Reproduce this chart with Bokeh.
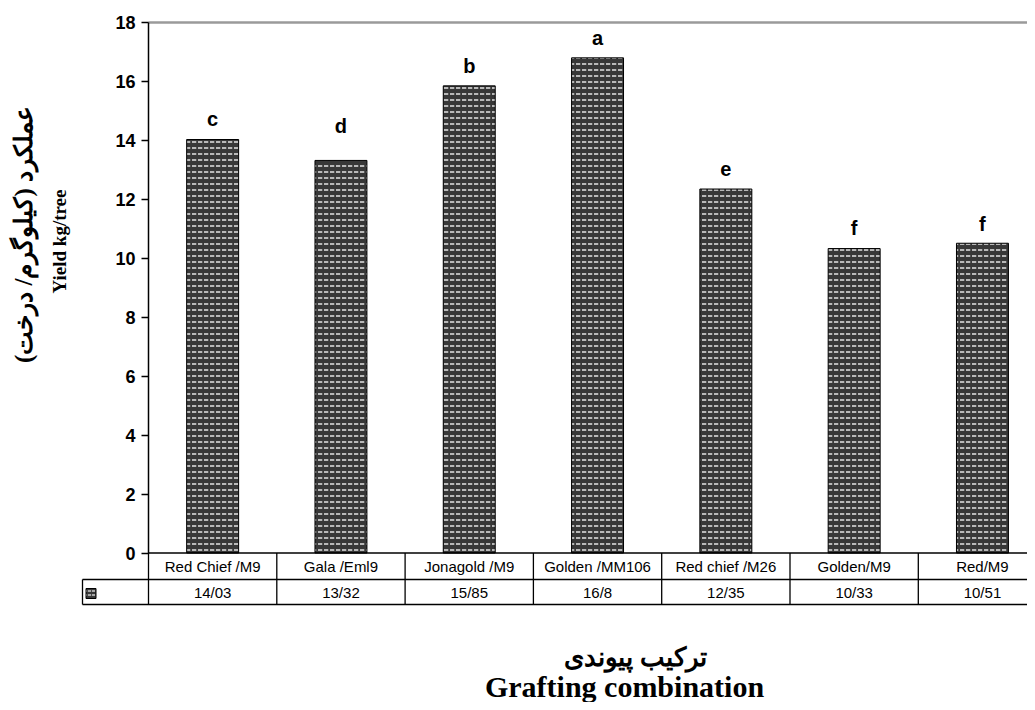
import math
from bokeh.plotting import figure
from bokeh.models import Range1d, LinearAxis, FixedTicker, Label
from bokeh.core.properties import value
from bokeh.embed import file_html
from bokeh.resources import INLINE

# ---------------- data ----------------
categories = ["Red Chief /M9", "Gala /Eml9", "Jonagold /M9", "Golden /MM106",
              "Red chief /M26", "Golden/M9", "Red/M9"]
yields = [14.03, 13.32, 15.85, 16.8, 12.35, 10.33, 10.51]
value_labels = ["14/03", "13/32", "15/85", "16/8", "12/35", "10/33", "10/51"]
letters = ["c", "d", "b", "a", "e", "f", "f"]
letter_y = [14.71, 14.50, 16.51, 17.49, 13.04, 11.04, 11.18]
y_ticks = [0, 2, 4, 6, 8, 10, 12, 14, 16, 18]
y_title_fa = "عملکرد (کیلوگرم/ درخت)"
y_title_en = "Yield kg/tree"
x_title_fa = "ترکیب پیوندی"
x_title_en = "Grafting combination"

# ---------------- layout (canvas pixels) ----------------
W, H = 1027, 702
AX_X = 148          # canvas x of the value axis
TOP = 22            # canvas y of the top of the scale
BASE = 552.5        # canvas y of zero
Y_MAX = 18
N = len(categories)
COL = 128.3         # width of one category column
PXU = (BASE - TOP) / Y_MAX


def dx(sx):
    return (sx - AX_X) / COL


def dy(sy):
    return (BASE - sy) / PXU


ROW1 = dy(579)
ROW2 = dy(604)
LEG = dx(82)

p = figure(width=W, height=H, title=None,
           x_range=Range1d(dx(0), dx(W)), y_range=Range1d(dy(H), dy(0)),
           x_axis_type=None, y_axis_type=None,
           output_backend="svg", toolbar_location=None,
           min_border=0, outline_line_color=None,
           background_fill_color="white", border_fill_color="white")

yaxis = LinearAxis(fixed_location=0, bounds=(0, Y_MAX),
                   ticker=FixedTicker(ticks=y_ticks),
                   major_tick_out=7, major_tick_in=0,
                   minor_tick_out=0, minor_tick_in=0,
                   axis_line_color="black", axis_line_width=1.5,
                   major_tick_line_color="black", major_tick_line_width=1.5,
                   major_label_text_font="Liberation Sans",
                   major_label_text_font_style="bold",
                   major_label_text_font_size="18px",
                   major_label_text_color="black",
                   major_label_standoff=6)
p.add_layout(yaxis, "left")

xs = [i + 0.5 for i in range(N)]

# plot-area top border
p.segment(x0=[0], y0=[Y_MAX], x1=[N], y1=[Y_MAX], line_color="#9a9a9a", line_width=2.5)

# bars
p.vbar(x=xs, top=yields, bottom=0, width=0.405,
       fill_color="#383838", line_color="black", line_width=1,
       hatch_pattern="horizontal_dash", hatch_color="#e4e4e4",
       hatch_scale=6, hatch_weight=1.5)

# significance letters
p.text(x=xs, y=letter_y, text=letters, text_align="center", text_baseline="middle",
       text_font=value("Liberation Sans"), text_font_style="bold",
       text_font_size="20px", text_color="black")

# data table lines
h_x0 = [0, LEG, LEG]
h_x1 = [N, N, N]
h_y = [0, ROW1, ROW2]
p.segment(x0=h_x0, y0=h_y, x1=h_x1, y1=h_y, line_color="black", line_width=1.3)
v_x = list(range(N)) + [LEG]
v_y0 = [0] * N + [ROW1]
v_y1 = [ROW2] * (N + 1)
p.segment(x0=v_x, y0=v_y0, x1=v_x, y1=v_y1, line_color="black", line_width=1.3)

# table texts
p.text(x=xs, y=[ROW1 / 2] * N, text=categories, text_align="center", text_baseline="middle",
       text_font=value("Liberation Sans"), text_font_size="15px", text_color="black")
p.text(x=xs, y=[(ROW1 + ROW2) / 2] * N, text=value_labels, text_align="center",
       text_baseline="middle", text_font=value("Liberation Sans"),
       text_font_size="15px", text_color="black")

# legend key in the table
p.rect(x=[dx(90.5)], y=[dy(593)], width=10, height=10,
       width_units="screen", height_units="screen",
       fill_color="#383838", line_color="black", line_width=1,
       hatch_pattern="horizontal_dash", hatch_color="#e4e4e4",
       hatch_scale=4, hatch_weight=1.3)

# axis titles
p.add_layout(Label(x=dx(23), y=dy(234), text=y_title_fa, angle=math.pi / 2,
                   text_align="center", text_baseline="middle",
                   text_font="Liberation Serif", text_font_style="bold",
                   text_font_size="25px", text_color="black"))
p.add_layout(Label(x=dx(59), y=dy(241), text=y_title_en, angle=math.pi / 2,
                   text_align="center", text_baseline="middle",
                   text_font="Liberation Serif", text_font_style="bold",
                   text_font_size="19px", text_color="black"))
p.add_layout(Label(x=dx(635), y=dy(657), text=x_title_fa,
                   text_align="center", text_baseline="middle",
                   text_font="Liberation Serif", text_font_style="bold",
                   text_font_size="26px", text_color="black"))
p.add_layout(Label(x=dx(624), y=dy(686), text=x_title_en,
                   text_align="center", text_baseline="middle",
                   text_font="Liberation Serif", text_font_style="bold",
                   text_font_size="30px", text_color="black"))

open("out.html", "w").write(file_html(p, INLINE))
